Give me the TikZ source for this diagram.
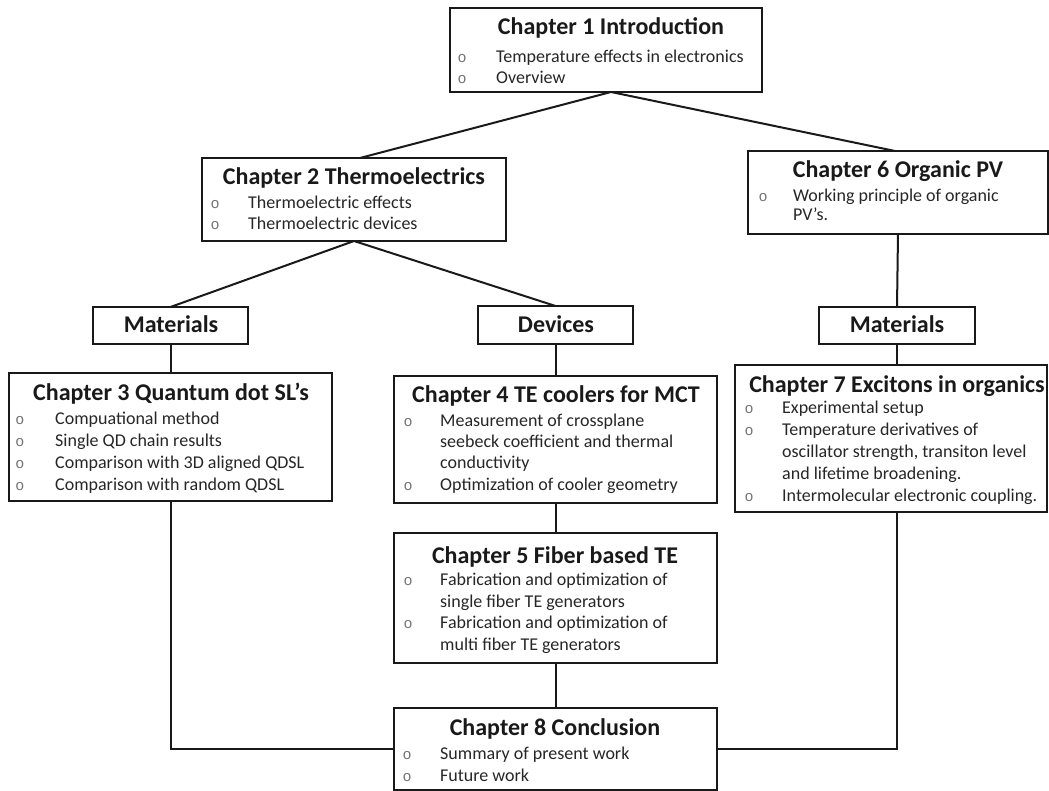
\documentclass[tikz,border=0pt]{standalone}
\usepackage{fontspec}
\setmainfont{Carlito}
\newfontfamily\bulfont{Liberation Mono}
\usetikzlibrary{calc}
\begin{document}
\begin{tikzpicture}[x=1pt,y=-1pt,
  box/.style={draw=black!90, line width=2.2pt, anchor=north west, inner sep=0pt, outer sep=0pt},
  ttl/.style={anchor=base, inner sep=0pt, font=\fontsize{24}{28}\selectfont\bfseries, text=black!90},
  itm/.style={anchor=base west, inner sep=0pt, font=\fontsize{18}{21}\selectfont, text=black!85},
  bul/.style={anchor=base, inner sep=0pt, font=\bulfont\fontsize{15}{17}\selectfont, text=black!55},
  conn/.style={line width=2pt, draw=black!90}]
\useasboundingbox (0,0) rectangle (1049,791);
% boxes
\node[box, minimum width=312pt, minimum height=84pt] (c1) at (450,8) {};
\node[box, minimum width=304pt, minimum height=83pt] (c2) at (202,158) {};
\node[box, minimum width=300pt, minimum height=83pt] (c6) at (748,151) {};
\node[box, minimum width=155pt, minimum height=37pt] (m1) at (93,307) {};
\node[box, minimum width=155pt, minimum height=38pt] (dv) at (478,306) {};
\node[box, minimum width=156pt, minimum height=37pt] (m2) at (819,307) {};
\node[box, minimum width=323pt, minimum height=128pt] (c3) at (9,373) {};
\node[box, minimum width=323pt, minimum height=127pt] (c4) at (394,376) {};
\node[box, minimum width=312pt, minimum height=147pt] (c7) at (735,365) {};
\node[box, minimum width=323pt, minimum height=130pt] (c5) at (394,533) {};
\node[box, minimum width=323pt, minimum height=82pt] (c8) at (394,708) {};
% chapter 1
\node[ttl] (c1t) at (611,35) {Chapter 1 Introduction};
\node[bul] (c1b1) at (462,63) {o};
\node[itm] (c1i1) at (496,63) {Temperature effects in electronics};
\node[bul] (c1b2) at (462,84) {o};
\node[itm] (c1i2) at (496,84) {Overview};
% chapter 2
\node[ttl] (c2t) at (354,185) {Chapter 2 Thermoelectrics};
\node[bul] (c2b1) at (215,209) {o};
\node[itm] (c2i1) at (248,209) {Thermoelectric effects};
\node[bul] (c2b2) at (215,230) {o};
\node[itm] (c2i2) at (248,230) {Thermoelectric devices};
% chapter 6
\node[ttl] (c6t) at (898,178) {Chapter 6 Organic PV};
\node[bul] (c6b1) at (763,202) {o};
\node[itm] (c6i1) at (793,202) {Working principle of organic};
\node[itm] (c6i2) at (793,221) {PV’s.};
% sub boxes
\node[ttl] (m1t) at (171,333) {Materials};
\node[ttl] (dvt) at (556,333) {Devices};
\node[ttl] (m2t) at (897,333) {Materials};
% chapter 3
\node[ttl] (c3t) at (171,400) {Chapter 3 Quantum dot SL’s};
\node[bul] (c3b1) at (20,424) {o};
\node[itm] (c3i1) at (55,424) {Compuational method};
\node[bul] (c3b2) at (20,446) {o};
\node[itm] (c3i2) at (55,446) {Single QD chain results};
\node[bul] (c3b3) at (20,468) {o};
\node[itm] (c3i3) at (55,468) {Comparison with 3D aligned QDSL};
\node[bul] (c3b4) at (20,490) {o};
\node[itm] (c3i4) at (55,490) {Comparison with random QDSL};
% chapter 4
\node[ttl] (c4t) at (556,402) {Chapter 4 TE coolers for MCT};
\node[bul] (c4b1) at (408,426) {o};
\node[itm] (c4i1) at (440,426) {Measurement of crossplane};
\node[itm] (c4i2) at (440,447) {seebeck coefficient and thermal};
\node[itm] (c4i3) at (440,468) {conductivity};
\node[bul] (c4b2) at (408,490) {o};
\node[itm] (c4i4) at (440,490) {Optimization of cooler geometry};
% chapter 7
\node[ttl] (c7t) at (897,392) {Chapter 7 Excitons in organics};
\node[bul] (c7b1) at (749,413) {o};
\node[itm] (c7i1) at (782,413) {Experimental setup};
\node[bul] (c7b2) at (749,435) {o};
\node[itm] (c7i2) at (782,435) {Temperature derivatives of};
\node[itm] (c7i3) at (782,457) {oscillator strength, transiton level};
\node[itm] (c7i4) at (782,479) {and lifetime broadening.};
\node[bul] (c7b3) at (749,501) {o};
\node[itm] (c7i5) at (782,501) {Intermolecular electronic coupling.};
% chapter 5
\node[ttl] (c5t) at (555,563) {Chapter 5 Fiber based TE};
\node[bul] (c5b1) at (408,585) {o};
\node[itm] (c5i1) at (440,585) {Fabrication and optimization of};
\node[itm] (c5i2) at (440,607) {single fiber TE generators};
\node[bul] (c5b2) at (408,628) {o};
\node[itm] (c5i3) at (440,628) {Fabrication and optimization of};
\node[itm] (c5i4) at (440,650) {multi fiber TE generators};
% chapter 8
\node[ttl] (c8t) at (555,735) {Chapter 8 Conclusion};
\node[bul] (c8b1) at (407,759) {o};
\node[itm] (c8i1) at (440,759) {Summary of present work};
\node[bul] (c8b2) at (407,781) {o};
\node[itm] (c8i2) at (440,781) {Future work};
% connectors
\draw[conn] (c1t |- c1.south) -- ($(c2.north)+(6,0)$);
\draw[conn] (c1t |- c1.south) -- ($(c6.north)+(-3,0)$);
\draw[conn] (c2.south) -- (m1.north);
\draw[conn] (c2.south) -- (dv.north);
\draw[conn] (c6.south) -- (m2.north);
\draw[conn] (m1.south) -- (c3.north);
\draw[conn] (dv.south) -- (c4.north);
\draw[conn] (m2.south) -- (m2.south |- c7.north);
\draw[conn] (c4.south) -- (c5.north);
\draw[conn] (c5.south) -- (c8.north);
\draw[conn] (c3.south) |- (c8.west);
\draw[conn] (m2.south |- c7.south) |- (c8.east);
\end{tikzpicture}
\end{document}
